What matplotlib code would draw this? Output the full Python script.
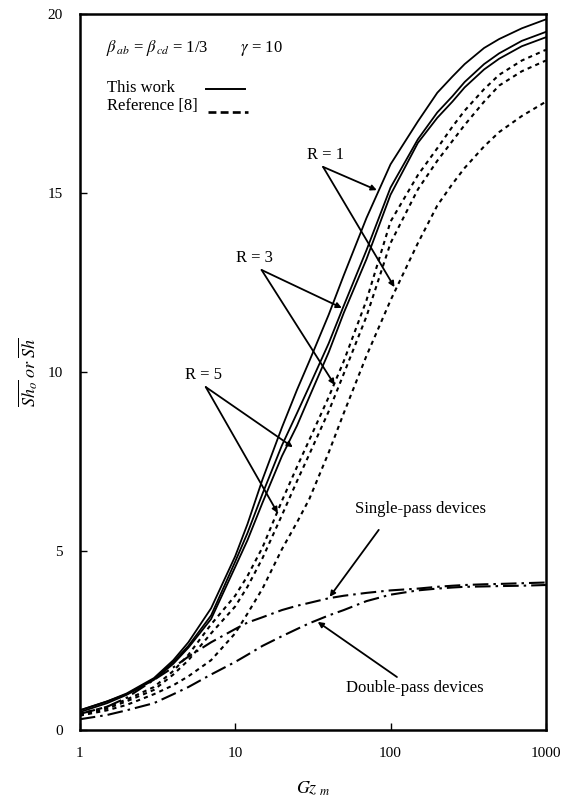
import numpy as np
import matplotlib
matplotlib.use("Agg")
import matplotlib.pyplot as plt

plt.rcParams['font.family'] = ['Liberation Serif', 'DejaVu Serif']
plt.rcParams['mathtext.fontset'] = 'stix'

# Graetz number grid
gz = [1, 1.5, 2, 3, 4, 5, 7, 10, 12, 15, 20, 25, 30, 40, 50, 70, 100, 150, 200, 250, 300, 400, 500, 700, 1000]

# This work (solid)
sh_r1 = [0.55, 0.8, 1.02, 1.45, 1.95, 2.45, 3.4, 4.85, 5.75, 7.0, 8.45, 9.5, 10.3, 11.6, 12.7, 14.3, 15.8, 17.0, 17.8, 18.25, 18.6, 19.05, 19.3, 19.6, 19.85]
sh_r3 = [0.55, 0.8, 1.0, 1.42, 1.9, 2.35, 3.2, 4.7, 5.5, 6.6, 7.95, 8.85, 9.6, 10.8, 11.85, 13.4, 15.15, 16.5, 17.25, 17.7, 18.1, 18.6, 18.9, 19.25, 19.5]
sh_r5 = [0.5, 0.75, 0.98, 1.4, 1.85, 2.3, 3.1, 4.55, 5.3, 6.35, 7.65, 8.5, 9.3, 10.55, 11.65, 13.15, 14.95, 16.4, 17.1, 17.55, 17.95, 18.45, 18.75, 19.1, 19.35]

# Reference [8] (dashed)
ref_a = [0.45, 0.65, 0.85, 1.2, 1.65, 2.1, 2.95, 3.75, 4.3, 5.1, 6.4, 7.35, 8.1, 9.3, 10.3, 12.0, 14.2, 15.5, 16.25, 16.85, 17.3, 17.9, 18.3, 18.7, 19.0]
ref_b = [0.42, 0.6, 0.8, 1.12, 1.55, 1.95, 2.7, 3.45, 4.0, 4.8, 6.0, 6.95, 7.7, 8.9, 9.95, 11.55, 13.6, 15.1, 15.9, 16.45, 16.9, 17.55, 18.0, 18.4, 18.7]
ref_r1 = [0.4, 0.55, 0.7, 1.0, 1.25, 1.5, 1.95, 2.7, 3.25, 3.95, 5.05, 5.8, 6.45, 7.75, 8.85, 10.45, 12.0, 13.6, 14.65, 15.25, 15.7, 16.3, 16.7, 17.15, 17.55]

# single / double pass devices (dash-dot)
single = [0.45, 0.65, 0.9, 1.4, 1.75, 2.05, 2.45, 2.82, 3.0, 3.15, 3.35, 3.47, 3.55, 3.68, 3.75, 3.83, 3.9, 3.95, 4.0, 4.03, 4.05, 4.07, 4.08, 4.1, 4.12]
double = [0.3, 0.42, 0.55, 0.75, 1.0, 1.2, 1.55, 1.9, 2.1, 2.35, 2.62, 2.82, 2.98, 3.2, 3.35, 3.6, 3.78, 3.9, 3.95, 3.98, 4.0, 4.01, 4.02, 4.03, 4.05]

fig = plt.figure(figsize=(5.74, 8.0), dpi=100)
ax = fig.add_axes([0.139, 0.0875, 0.812, 0.895])

for y in (sh_r1, sh_r3, sh_r5):
    ax.plot(gz, y, color='black', lw=1.3)
for y in (ref_a, ref_b, ref_r1):
    ax.plot(gz, y, color='black', lw=1.5, dashes=(2, 2))
for y in (single, double):
    ax.plot(gz, y, color='black', lw=1.5, dashes=(7.5, 2.4, 1.2, 2.4))

ax.set_xscale('log')
ax.set_xlim(1, 1000)
ax.set_ylim(0, 20)
ax.set_xticks([1, 10, 100, 1000])
ax.set_xticklabels(['1', '10', '100', '1000'])
ax.set_yticks([0, 5, 10, 15, 20])
ax.minorticks_off()
ax.tick_params(direction='in', length=5, width=1, labelsize=11, pad=12)
for s in ax.spines.values():
    s.set_linewidth(1.8)

ax.set_xlabel(r'$Gz_{\ m}$', fontsize=13, labelpad=14)
ax.set_ylabel(r'$\overline{Sh_o}\ or\ \overline{Sh}$', fontsize=13, labelpad=6)

ax.text(0.056, 0.9525, r'$\beta_{\,ab}$ = $\beta_{\,cd}$ = 1/3        $\gamma$ = 10',
        transform=ax.transAxes, fontsize=12, va='center')

# legend drawn by hand: text on the left, line sample on the right
ax.text(0.058, 0.897, 'This work', transform=ax.transAxes, fontsize=12, va='center')
ax.text(0.058, 0.871, 'Reference [8]', transform=ax.transAxes, fontsize=12, va='center')
ax.plot([0.270, 0.354], [0.895, 0.895], transform=ax.transAxes, color='black', lw=1.4)
ax.plot([0.275, 0.360], [0.863, 0.863], transform=ax.transAxes, color='black',
        lw=1.9, dashes=(3, 1.6))

arrow = dict(arrowstyle='-|>', color='black', lw=1.3, mutation_scale=8,
             shrinkA=0, shrinkB=0)

def label_two(text, tpos, start, tips):
    ax.text(tpos[0], tpos[1], text, fontsize=12, ha='center', va='center')
    for tip in tips:
        ax.annotate('', xy=tip, xytext=start, arrowprops=arrow)

label_two('R = 1', (37.9, 16.06), (36.8, 15.73), [(81.6, 15.08), (106, 12.37)])
label_two('R = 3', (13.4, 13.18), (14.8, 12.85), [(48.6, 11.79), (43.7, 9.64)])
label_two('R = 5', (6.28, 9.92), (6.47, 9.58), [(23.5, 7.9), (18.8, 6.06)])

ax.text(157, 6.17, 'Single-pass devices', fontsize=12, ha='center', va='center')
ax.annotate('', xy=(40.6, 3.72), xytext=(84, 5.59), arrowprops=arrow)
ax.text(143, 1.17, 'Double-pass devices', fontsize=12, ha='center', va='center')
ax.annotate('', xy=(34, 3.02), xytext=(110, 1.48), arrowprops=arrow)

fig.savefig('out.png', dpi=100)
